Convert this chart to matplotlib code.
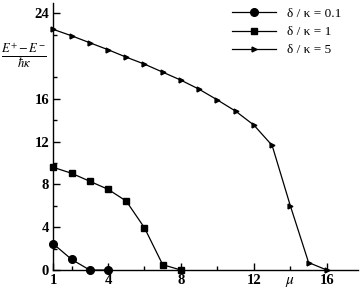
import numpy as np
import matplotlib
matplotlib.use('Agg')
import matplotlib.pyplot as plt

plt.rcParams['font.family'] = ['Liberation Serif', 'DejaVu Serif']
plt.rcParams['mathtext.fontset'] = 'stix'

# delta / kappa = 0.1
mu_a = [1, 2, 3, 4]
gap_a = [2.45, 1.0, 0.0, 0.0]

# delta / kappa = 1
mu_b = [1, 2, 3, 4, 5, 6, 7, 8]
gap_b = [9.6, 9.05, 8.3, 7.55, 6.45, 3.95, 0.5, 0.0]

# delta / kappa = 5
mu_c = [1, 2, 3, 4, 5, 6, 7, 8, 9, 10, 11, 12, 13, 14, 15, 16]
gap_c = [22.5, 21.9, 21.25, 20.6, 19.9, 19.25, 18.5, 17.75,
         16.9, 15.9, 14.85, 13.55, 11.65, 6.0, 0.7, 0.0]

labels = ['δ / κ = 0.1', 'δ / κ = 1', 'δ / κ = 5']
xticks = [1, 4, 8, 12, 16]
yticks = [0, 4, 8, 12, 16, 24]

fig = plt.figure(figsize=(3.6, 2.91), dpi=100)
ax = fig.add_axes([0.148, 0.072, 0.846, 0.919])

ax.plot(mu_a, gap_a, color='black', lw=0.9, marker='o', ms=5.5, label=labels[0], clip_on=False, zorder=3)
ax.plot(mu_b, gap_b, color='black', lw=0.9, marker='s', ms=5, label=labels[1], clip_on=False, zorder=3)
ax.plot(mu_c, gap_c, color='black', lw=0.9, marker='>', ms=3.5, label=labels[2], clip_on=False, zorder=3)

ax.set_xlim(1, 17.7)
ax.set_ylim(0, 25)
ax.spines['top'].set_visible(False)
ax.spines['right'].set_visible(False)
for s in ('left', 'bottom'):
    ax.spines[s].set_linewidth(1.0)

ax.set_xticks(xticks)
ax.set_xticks([2, 6, 10, 14], minor=True)
ax.set_yticks(yticks)
ax.set_yticks([2, 6, 10, 14, 18, 22], minor=True)
ax.tick_params(which='major', direction='in', length=5, width=1, labelsize=10.5, pad=3)
ax.tick_params(which='minor', direction='in', length=3, width=1)
for t in ax.get_xticklabels() + ax.get_yticklabels():
    t.set_fontweight('bold')

ax.text(14.0, -0.043, r'$\mu$', transform=ax.get_xaxis_transform(), ha='center', va='center', fontsize=11)
fig.text(0.066, 0.81, r'$\frac{E^{+}-E^{-}}{\hbar\kappa}$', ha='center', va='center', fontsize=13)

leg = ax.legend(loc='upper right', bbox_to_anchor=(0.985, 1.025), frameon=False, numpoints=1,
                handlelength=3.4, fontsize=9.5, labelspacing=0.45, handletextpad=0.8)

fig.savefig('out.png', dpi=100)
